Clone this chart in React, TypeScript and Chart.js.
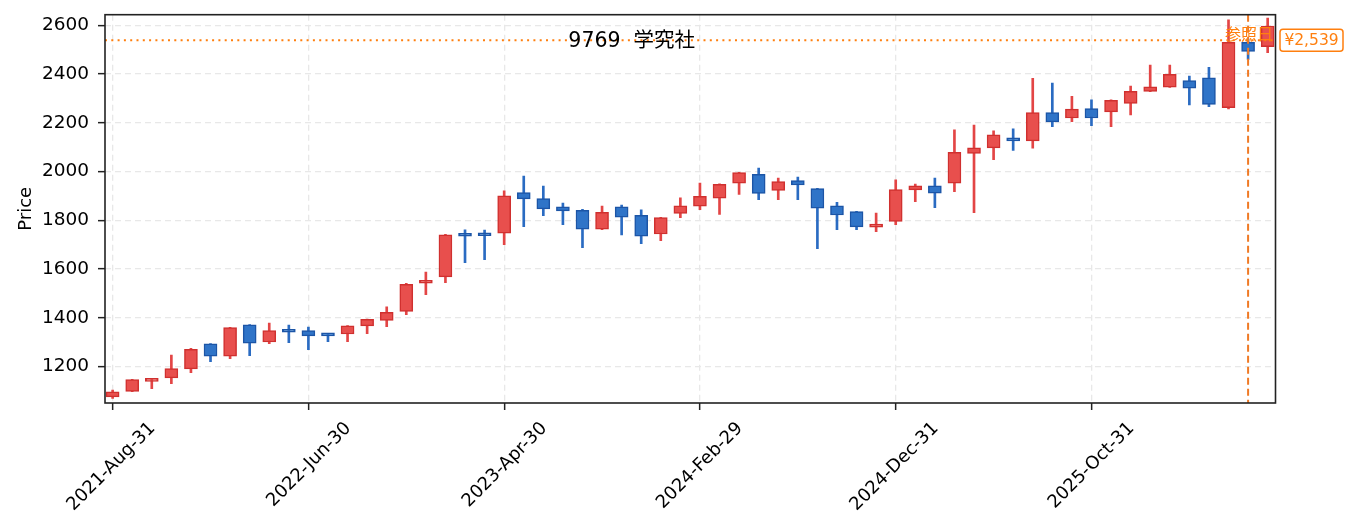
import { useEffect, useRef } from 'react';
import { Chart, registerables } from 'chart.js';

Chart.register(...registerables);

// monthly candles, 9769 学究社
const dates = [
  '2021-Aug-31', '2021-Sep-30', '2021-Oct-31', '2021-Nov-30', '2021-Dec-31',
  '2022-Jan-31', '2022-Feb-28', '2022-Mar-31', '2022-Apr-30', '2022-May-31',
  '2022-Jun-30', '2022-Jul-31', '2022-Aug-31', '2022-Sep-30', '2022-Oct-31',
  '2022-Nov-30', '2022-Dec-31', '2023-Jan-31', '2023-Feb-28', '2023-Mar-31',
  '2023-Apr-30', '2023-May-31', '2023-Jun-30', '2023-Jul-31', '2023-Aug-31',
  '2023-Sep-30', '2023-Oct-31', '2023-Nov-30', '2023-Dec-31', '2024-Jan-31',
  '2024-Feb-29', '2024-Mar-31', '2024-Apr-30', '2024-May-31', '2024-Jun-30',
  '2024-Jul-31', '2024-Aug-31', '2024-Sep-30', '2024-Oct-31', '2024-Nov-30',
  '2024-Dec-31', '2025-Jan-31', '2025-Feb-28', '2025-Mar-31', '2025-Apr-30',
  '2025-May-31', '2025-Jun-30', '2025-Jul-31', '2025-Aug-31', '2025-Sep-30',
  '2025-Oct-31', '2025-Nov-30', '2025-Dec-31', '2026-Jan-31', '2026-Feb-28',
  '2026-Mar-31', '2026-Apr-30', '2026-May-31', '2026-Jun-30', '2026-Jul-31',
];

const opens = [
  1076, 1099, 1140, 1154, 1191, 1294, 1243, 1372, 1301, 1349,
  1348, 1335, 1334, 1367, 1390, 1427, 1542, 1568, 1743, 1744,
  1748, 1914, 1889, 1856, 1841, 1764, 1856, 1821, 1744, 1829,
  1858, 1891, 1953, 1989, 1923, 1963, 1930, 1860, 1836, 1772,
  1796, 1925, 1942, 1953, 2075, 2097, 2137, 2126, 2242, 2220,
  2258, 2245, 2280, 2329, 2346, 2373, 2385, 2262, 2530, 2512,
];
const highs = [
  1104, 1148, 1150, 1248, 1275, 1295, 1361, 1373, 1379, 1371,
  1362, 1336, 1369, 1395, 1445, 1542, 1588, 1743, 1761, 1760,
  1921, 1982, 1941, 1871, 1845, 1859, 1863, 1843, 1812, 1892,
  1953, 1950, 1997, 2014, 1973, 1978, 1931, 1874, 1837, 1830,
  1966, 1949, 1973, 2171, 2191, 2167, 2175, 2383, 2363, 2309,
  2294, 2294, 2351, 2437, 2437, 2392, 2428, 2622, 2543, 2630,
];
const lows = [
  1070, 1097, 1110, 1130, 1175, 1220, 1233, 1245, 1294, 1298,
  1270, 1303, 1303, 1335, 1364, 1413, 1495, 1545, 1627, 1639,
  1700, 1774, 1819, 1782, 1688, 1762, 1740, 1704, 1717, 1811,
  1844, 1824, 1906, 1885, 1885, 1885, 1684, 1762, 1762, 1754,
  1782, 1877, 1852, 1918, 1832, 2049, 2087, 2096, 2184, 2205,
  2188, 2184, 2232, 2328, 2345, 2274, 2266, 2257, 2460, 2488,
];
const closes = [
  1097, 1147, 1148, 1192, 1271, 1243, 1360, 1296, 1348, 1341,
  1326, 1326, 1368, 1394, 1423, 1538, 1554, 1741, 1735, 1737,
  1901, 1888, 1847, 1839, 1764, 1833, 1813, 1735, 1811, 1860,
  1899, 1948, 1996, 1911, 1959, 1945, 1850, 1822, 1773, 1784,
  1926, 1942, 1912, 2079, 2098, 2151, 2126, 2242, 2204, 2256,
  2220, 2292, 2329, 2348, 2399, 2342, 2276, 2530, 2493, 2597,
];

const yTicks = [1200, 1400, 1600, 1800, 2000, 2200, 2400, 2600];
const xTickIdx = [0, 10, 20, 30, 40, 50];

const titleText = '9769  学究社';
const refText = '参照日';
const refIndex = 58;
const refPrice = 2539;

const UP_FILL = '#e84f4d';
const UP_EDGE = '#d0302f';
const UP_WICK = '#e34545';
const DN_FILL = '#2f74c8';
const DN_EDGE = '#1c55a6';
const DN_WICK = '#2a6bc2';
const ORANGE = '#ff7f0e';

const isUp = (i: number) => closes[i] >= opens[i];

const overlay = {
  id: 'overlay',
  afterDatasetsDraw(chart: any) {
    const { ctx, chartArea: a, scales } = chart;
    const rx = scales.x.getPixelForValue(refIndex);
    const ry = scales.y.getPixelForValue(refPrice);
    ctx.save();

    // reference lines
    ctx.strokeStyle = ORANGE;
    ctx.lineWidth = 2;
    ctx.setLineDash([2, 4.3]);
    ctx.beginPath();
    ctx.moveTo(a.left, ry);
    ctx.lineTo(a.right, ry);
    ctx.stroke();
    ctx.strokeStyle = '#f07a25';
    ctx.setLineDash([7, 4]);
    ctx.beginPath();
    ctx.moveTo(rx, a.top);
    ctx.lineTo(rx, a.bottom);
    ctx.stroke();
    ctx.setLineDash([]);

    // title inside the axes
    ctx.fillStyle = '#000';
    ctx.font = '20.5px "DejaVu Sans", "Noto Sans CJK JP", sans-serif';
    ctx.textAlign = 'center';
    ctx.textBaseline = 'alphabetic';
    ctx.fillText(titleText, a.left + a.width * 0.45, a.top + 32);

    // reference date label
    ctx.fillStyle = ORANGE;
    ctx.font = '16px "Noto Sans CJK JP", sans-serif';
    ctx.textBaseline = 'middle';
    ctx.fillText(refText, rx + 1, a.top + 19.5);

    // frame
    ctx.strokeStyle = '#222';
    ctx.lineWidth = 1.6;
    ctx.strokeRect(a.left, a.top, a.right - a.left, a.bottom - a.top);

    // price tag
    const bx = a.right + 4.5;
    const bw = 63;
    const bh = 22;
    ctx.fillStyle = '#fff';
    ctx.strokeStyle = ORANGE;
    ctx.lineWidth = 1.5;
    ctx.beginPath();
    ctx.roundRect(bx, ry - bh / 2, bw, bh, 3);
    ctx.fill();
    ctx.stroke();
    ctx.fillStyle = ORANGE;
    ctx.font = '15.5px "DejaVu Sans", sans-serif';
    ctx.textAlign = 'center';
    ctx.fillText('¥' + refPrice.toLocaleString('en-US'), bx + bw / 2, ry + 0.5);

    ctx.restore();
  },
};

export default function App() {
  const chartRef = useRef<HTMLCanvasElement>(null);
  const chartInstance = useRef<Chart | null>(null);

  useEffect(() => {
    if (!chartRef.current) return;
    if (chartInstance.current) chartInstance.current.destroy();

    Chart.defaults.font.family = '"DejaVu Sans", "Noto Sans CJK JP", sans-serif';

    const idx = opens.map((_, i) => i);
    const gridOpts = {
      color: '#e8e8e8',
      lineWidth: 1.3,
      tickLength: 7,
      tickColor: '#222',
      tickWidth: 1.5,
      offset: false,
    };

    chartInstance.current = new Chart(chartRef.current, {
      type: 'bar',
      data: {
        datasets: [
          {
            label: 'body',
            data: idx.map((i) => ({ x: i, y: [opens[i], closes[i]] })),
            backgroundColor: idx.map((i) => (isUp(i) ? UP_FILL : DN_FILL)),
            borderColor: idx.map((i) => (isUp(i) ? UP_EDGE : DN_EDGE)),
            borderWidth: 1.5,
            borderSkipped: false,
            barThickness: 13,
            minBarLength: 3,
            grouped: false,
            order: 0,
          },
          {
            label: 'wick',
            data: idx.map((i) => ({ x: i, y: [lows[i], highs[i]] })),
            backgroundColor: idx.map((i) => (isUp(i) ? UP_WICK : DN_WICK)),
            borderWidth: 0,
            barThickness: 2,
            grouped: false,
            order: 1,
          },
        ] as any,
      },
      options: {
        animation: false,
        responsive: true,
        maintainAspectRatio: false,
        layout: { padding: { left: 0, right: 71.5, top: 6.7, bottom: 0 } },
        plugins: {
          legend: { display: false },
          tooltip: { enabled: false },
        },
        scales: {
          x: {
            type: 'linear',
            min: -0.39,
            max: 59.4,
            offset: false,
            afterBuildTicks: (s: any) => {
              s.ticks = xTickIdx.map((v) => ({ value: v }));
            },
            afterFit: (s: any) => {
              s.height = 121;
              s.paddingLeft = 0;
              s.paddingRight = 0;
            },
            ticks: {
              autoSkip: false,
              minRotation: 45,
              maxRotation: 45,
              labelOffset: 40,
              padding: 8,
              color: '#000',
              font: { size: 18 },
              callback: (v: any) => dates[v as number],
            },
            grid: gridOpts,
            border: { display: false, dash: [6, 4] },
          },
          y: {
            min: 1051,
            max: 2643.5,
            afterBuildTicks: (s: any) => {
              s.ticks = yTicks.map((v) => ({ value: v }));
            },
            afterFit: (s: any) => {
              s.width = 97;
              s.paddingTop = 0;
              s.paddingBottom = 0;
            },
            ticks: {
              padding: 9,
              color: '#000',
              font: { size: 18.5 },
              callback: (v: any) => String(v),
            },
            grid: gridOpts,
            border: { display: false, dash: [6, 4] },
            title: {
              display: true,
              text: 'Price',
              color: '#000',
              font: { size: 18 },
              padding: { top: 8, bottom: 0 },
            },
          },
        },
      } as any,
      plugins: [overlay],
    });

    return () => {
      if (chartInstance.current) {
        chartInstance.current.destroy();
        chartInstance.current = null;
      }
    };
  }, []);

  return (
    <div style={{ position: 'relative', width: 1339, height: 516 }}>
      <canvas ref={chartRef} />
    </div>
  );
}
